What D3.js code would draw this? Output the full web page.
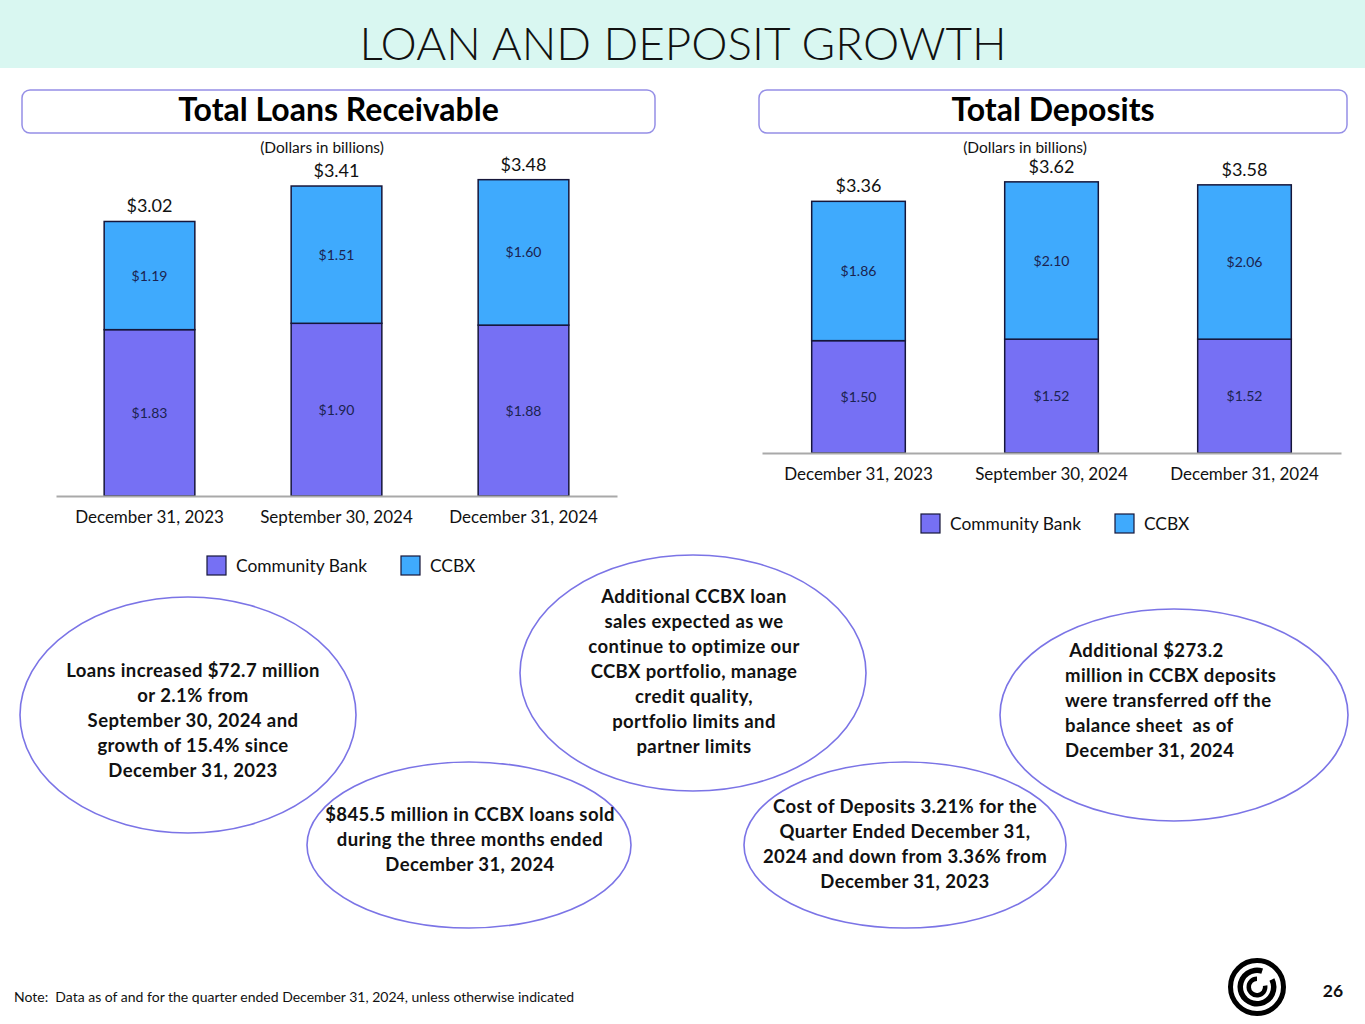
<!DOCTYPE html>
<html>
<head>
<meta charset="utf-8">
<script src="https://cdn.jsdelivr.net/npm/d3@7"></script>
<style>
    body { margin: 0; background: #fff; }
    svg { display: block; font-family: Lato, "Open Sans", sans-serif; }
    svg text { white-space: pre; }
</style>
</head>
<body>
<div id="slide"></div>
<script>
const categories = ["December 31, 2023", "September 30, 2024", "December 31, 2024"];
const seriesNames = ["Community Bank", "CCBX"];
const loanCommunity = [1.83, 1.90, 1.88];
const loanCcbx = [1.19, 1.51, 1.60];
const depositCommunity = [1.50, 1.52, 1.52];
const depositCcbx = [1.86, 2.10, 2.06];

const notes = [
    ["Loans increased $72.7 million", "or 2.1% from", "September 30, 2024 and", "growth of 15.4% since", "December 31, 2023"],
    ["$845.5 million in CCBX loans sold", "during the three months ended", "December 31, 2024"],
    ["Additional CCBX loan", "sales expected as we", "continue to optimize our", "CCBX portfolio, manage", "credit quality,", "portfolio limits and", "partner limits"],
    ["Cost of Deposits 3.21% for the", "Quarter Ended December 31,", "2024 and down from 3.36% from", "December 31, 2023"],
    [" Additional $273.2", "million in CCBX deposits", "were transferred off the", "balance sheet  as of", "December 31, 2024"],
];

const colors = { "Community Bank": "#7670f4", "CCBX": "#3faafd" };
const fmt = (v) => "$" + v.toFixed(2);

const svg = d3.select("#slide")
    .append("svg")
    .attr("width", 1365)
    .attr("height", 1024);

// title band
svg.append("rect")
    .attr("x", 0).attr("y", 0)
    .attr("width", 1365).attr("height", 68)
    .attr("fill", "#d9f7f1");
svg.append("text")
    .attr("x", 683).attr("y", 60)
    .attr("text-anchor", "middle")
    .attr("font-size", 45.8)
    .attr("font-weight", 300)
    .attr("fill", "#111")
    .text("LOAN AND DEPOSIT GROWTH");

function drawChart(opts) {
    const { title, box, community, ccbx, xRange, baseline, pxPerUnit, legendX, legendY, unitsX } = opts;
    const g = svg.append("g");

    g.append("rect")
        .attr("x", box[0]).attr("y", box[1])
        .attr("width", box[2]).attr("height", box[3])
        .attr("rx", 8)
        .attr("fill", "#fff")
        .attr("stroke", "#958fe6")
        .attr("stroke-width", 1.5);
    g.append("text")
        .attr("x", box[0] + box[2] / 2).attr("y", box[1] + 31)
        .attr("text-anchor", "middle")
        .attr("font-size", 32)
        .attr("font-weight", 700)
        .attr("fill", "#000")
        .text(title);
    g.append("text")
        .attr("x", unitsX).attr("y", 153)
        .attr("text-anchor", "middle")
        .attr("font-size", 15.5)
        .attr("fill", "#111")
        .text("(Dollars in billions)");

    const rows = categories.map((c, i) => ({ cat: c, "Community Bank": community[i], "CCBX": ccbx[i] }));
    const stacked = d3.stack().keys(seriesNames)(rows);

    const xScale = d3.scaleBand()
        .domain(categories)
        .range(xRange)
        .paddingInner(0.515)
        .paddingOuter(0.2575);
    const yScale = d3.scaleLinear()
        .domain([0, 4])
        .range([baseline, baseline - 4 * pxPerUnit]);

    const layers = g.selectAll(".layer")
        .data(stacked)
        .enter()
        .append("g")
        .attr("class", "layer")
        .attr("fill", (d) => colors[d.key]);
    layers.selectAll("rect")
        .data((d) => d)
        .enter()
        .append("rect")
        .attr("x", (d) => xScale(d.data.cat))
        .attr("y", (d) => yScale(d[1]))
        .attr("width", xScale.bandwidth())
        .attr("height", (d) => yScale(d[0]) - yScale(d[1]))
        .attr("stroke", "#16163a")
        .attr("stroke-width", 1.5);
    layers.selectAll("text")
        .data((d) => d)
        .enter()
        .append("text")
        .attr("x", (d) => xScale(d.data.cat) + xScale.bandwidth() / 2)
        .attr("y", (d) => (yScale(d[0]) + yScale(d[1])) / 2 + 5)
        .attr("text-anchor", "middle")
        .attr("font-size", 14)
        .attr("fill", "#1b2350")
        .text((d) => fmt(d[1] - d[0]));

    // totals above bars
    g.selectAll(".total")
        .data(rows)
        .enter()
        .append("text")
        .attr("class", "total")
        .attr("x", (d) => xScale(d.cat) + xScale.bandwidth() / 2)
        .attr("y", (d) => yScale(d["Community Bank"] + d["CCBX"]) - 9)
        .attr("text-anchor", "middle")
        .attr("font-size", 18)
        .attr("fill", "#111")
        .text((d) => fmt(d["Community Bank"] + d["CCBX"]));

    const xAxisCall = d3.axisBottom(xScale).tickSize(0).tickPadding(15);
    const axis = g.append("g")
        .attr("class", "x axis")
        .attr("transform", "translate(0," + baseline + ")")
        .call(xAxisCall);
    axis.select(".domain").attr("stroke", "#a9a9a9").attr("stroke-width", 2);
    axis.selectAll("text")
        .attr("font-size", 17)
        .attr("font-family", "Lato, sans-serif")
        .attr("fill", "#111");

    // legend
    const legend = g.append("g").attr("transform", "translate(" + legendX + "," + legendY + ")");
    const items = legend.selectAll("g")
        .data(seriesNames)
        .enter()
        .append("g")
        .attr("transform", (d, i) => "translate(" + (i * 194) + ",0)");
    items.append("rect")
        .attr("x", 0).attr("y", -10)
        .attr("width", 19).attr("height", 19)
        .attr("fill", (d) => colors[d])
        .attr("stroke", "#16163a")
        .attr("stroke-width", 1.2);
    items.append("text")
        .attr("x", 29).attr("y", 6)
        .attr("font-size", 17.4)
        .attr("fill", "#111")
        .text((d) => d);
}

drawChart({
    title: "Total Loans Receivable",
    box: [22, 90, 633, 43],
    community: loanCommunity,
    ccbx: loanCcbx,
    xRange: [56, 617],
    baseline: 496,
    pxPerUnit: 90.9,
    legendX: 207,
    legendY: 566,
    unitsX: 322,
});

drawChart({
    title: "Total Deposits",
    box: [759, 90, 588, 43],
    community: depositCommunity,
    ccbx: depositCcbx,
    xRange: [762, 1341],
    baseline: 453,
    pxPerUnit: 74.9,
    legendX: 921,
    legendY: 524,
    unitsX: 1025,
});

// callout ellipses
const bubbles = [
    { cx: 188, cy: 715, rx: 168, ry: 118, tx: 193, ty: 677, anchor: "middle" },
    { cx: 469, cy: 845, rx: 162, ry: 83, tx: 470, ty: 821, anchor: "middle" },
    { cx: 693, cy: 673, rx: 173, ry: 118, tx: 694, ty: 603, anchor: "middle" },
    { cx: 905, cy: 845, rx: 161, ry: 83, tx: 905, ty: 813, anchor: "middle" },
    { cx: 1174, cy: 715, rx: 174, ry: 106, tx: 1065, ty: 657, anchor: "start" },
];

const callouts = svg.selectAll(".callout")
    .data(bubbles)
    .enter()
    .append("g")
    .attr("class", "callout");
callouts.append("ellipse")
    .attr("cx", (d) => d.cx).attr("cy", (d) => d.cy)
    .attr("rx", (d) => d.rx).attr("ry", (d) => d.ry)
    .attr("fill", "none")
    .attr("stroke", "#7b74e6")
    .attr("stroke-width", 1.6);
callouts.each(function (d, i) {
    d3.select(this).selectAll("text")
        .data(notes[i])
        .enter()
        .append("text")
        .attr("x", d.tx)
        .attr("y", (line, j) => d.ty + j * 25)
        .attr("text-anchor", d.anchor)
        .attr("font-size", 18.5)
        .attr("letter-spacing", 0.4)
        .attr("font-weight", 700)
        .attr("fill", "#111")
        .text((line) => line);
});

// footer
svg.append("text")
    .attr("x", 14).attr("y", 1002)
    .attr("font-size", 14)
    .attr("fill", "#111")
    .text("Note:  Data as of and for the quarter ended December 31, 2024, unless otherwise indicated");
svg.append("text")
    .attr("x", 1333).attr("y", 997)
    .attr("text-anchor", "middle")
    .attr("font-size", 17.5)
    .attr("font-weight", 700)
    .attr("fill", "#111")
    .text("26");

// logo
const logo = svg.append("g").attr("transform", "translate(1257,987)");
logo.append("circle")
    .attr("r", 26.5)
    .attr("fill", "none")
    .attr("stroke", "#000")
    .attr("stroke-width", 5);
const arc = d3.arc();
logo.append("path")
    .attr("d", arc({ innerRadius: 14, outerRadius: 19.5, startAngle: 0.35 * Math.PI, endAngle: 2.1 * Math.PI }))
    .attr("fill", "#000");
logo.append("path")
    .attr("d", arc({ innerRadius: 6, outerRadius: 10.5, startAngle: 0.45 * Math.PI, endAngle: 2.0 * Math.PI }))
    .attr("fill", "#000");
</script>
</body>
</html>
